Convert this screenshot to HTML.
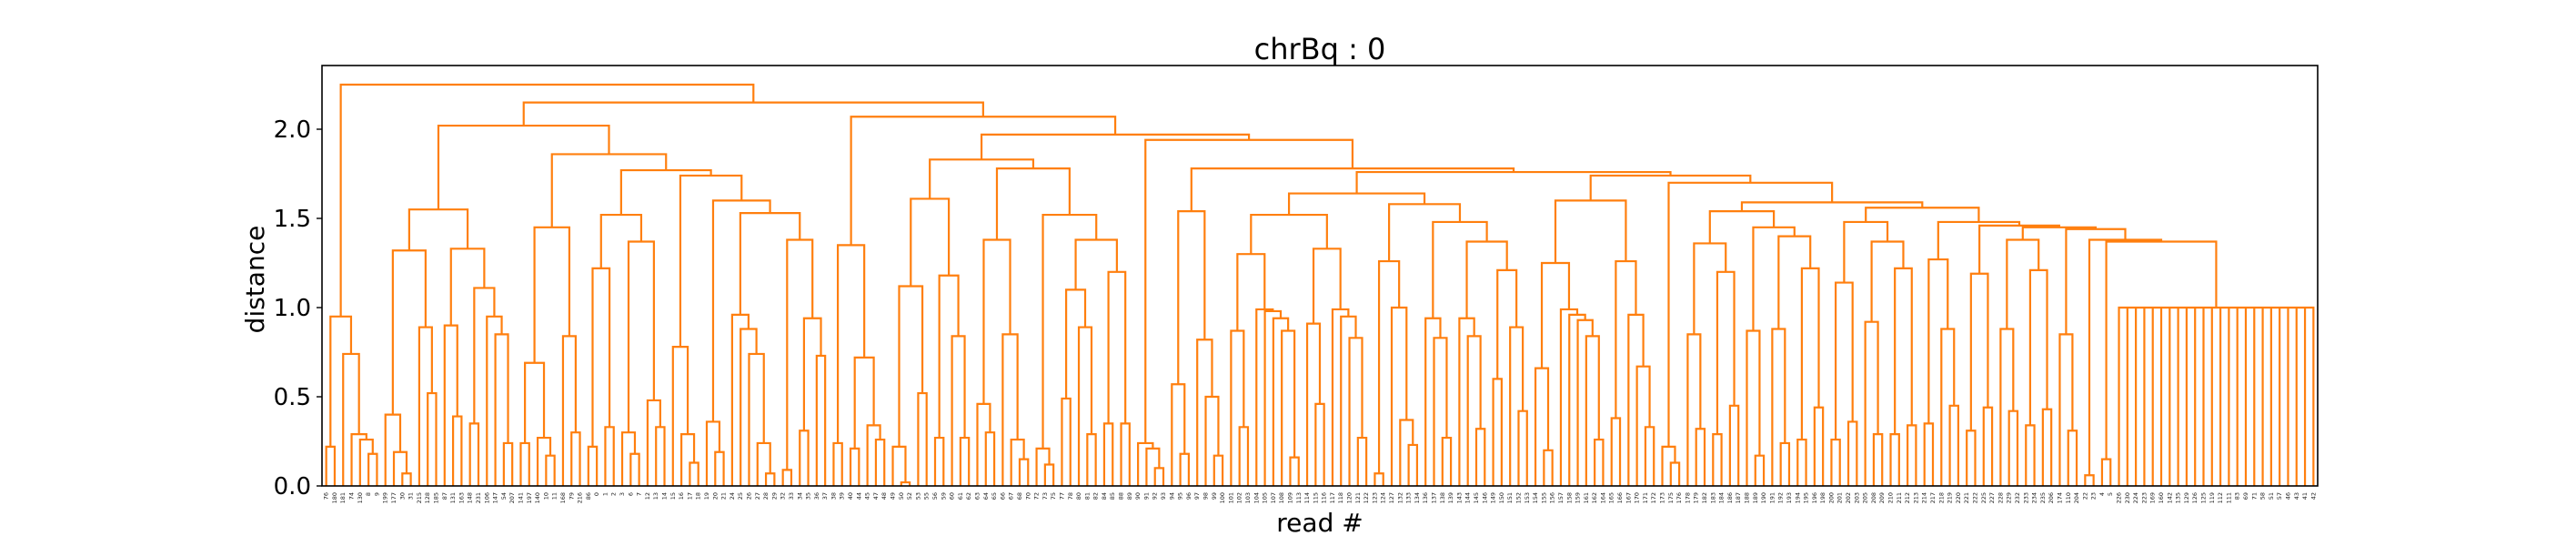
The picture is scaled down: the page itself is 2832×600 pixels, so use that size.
<!DOCTYPE html>
<html><head><meta charset="utf-8"><style>
html,body{margin:0;padding:0;background:#fff;}
svg{display:block;font-family:"DejaVu Sans","Liberation Sans",sans-serif;}
</style></head><body>
<svg id="chart" width="2832" height="600" viewBox="0 0 2832 600" xmlns="http://www.w3.org/2000/svg">
<rect x="0" y="0" width="2832" height="600" fill="#fff"/>
<text x="1451" y="65" font-size="32" text-anchor="middle" fill="#000">chrBq : 0</text>
<text x="0" y="0" font-size="28" text-anchor="middle" fill="#000" transform="translate(290,307) rotate(-90)">distance</text>
<text x="1451" y="584" font-size="28" text-anchor="middle" fill="#000">read #</text>
<g id="links"></g>
<g id="yaxis"></g>
<g id="xlabels"></g>
<rect x="354" y="72" width="2194" height="462" fill="none" stroke="#000" stroke-width="1.6"/>
</svg>
<script>
// ---- data: dendrogram subtrees [height, child, child...], leaf = 0 ----
const yTicks = [0.0, 0.5, 1.0, 1.5, 2.0];
const yTickLabels = ["0.0", "0.5", "1.0", "1.5", "2.0"];
const treeA = [0.95,[0.22,0,0],[0.74,0,[0.29,0,[0.26,0,[0.18,0,0]]]]];
const tree132 = [1.32,[0.40,0,[0.19,0,[0.07,0,0]]],[0.89,0,[0.52,0,0]]];
const tree133 = [1.33,[0.90,0,[0.39,0,0]],[1.11,[0.35,0,0],[0.95,0,[0.85,0,[0.24,0,0]]]]];
const tree145 = [1.45,[0.69,[0.24,0,0],[0.27,0,[0.17,0,0]]],[0.84,0,[0.30,0,0]]];
const tree152a = [1.52,[1.22,[0.22,0,0],[0.33,0,0]],[1.37,[0.30,0,[0.18,0,0]],[0.48,0,[0.33,0,0]]]];
const tree174 = [1.74,[0.78,0,[0.29,0,[0.13,0,0]]],[1.60,[0.36,0,[0.19,0,0]],[1.53,[0.96,0,[0.88,0,[0.74,0,[0.24,0,[0.07,0,0]]]]],[1.38,[0.09,0,0],[0.94,[0.31,0,0],[0.73,0,0]]]]]];
const tree135 = [1.35,[0.24,0,0],[0.72,[0.21,0,0],[0.34,0,[0.26,0,0]]]];
const tree161 = [1.61,[1.12,[0.22,0,[0.02,0,0]],[0.52,0,0]],[1.18,[0.27,0,0],[0.84,0,[0.27,0,0]]]];
const tree178a = [1.78,[1.38,[0.46,0,[0.30,0,0]],[0.85,0,[0.26,0,[0.15,0,0]]]],[1.52,[0.21,0,[0.12,0,0]],[1.38,[1.10,[0.49,0,0],[0.89,0,[0.29,0,0]]],[1.20,[0.35,0,0],[0.35,0,0]]]]];
const tree154b = [1.54,[0.57,0,[0.18,0,0]],[0.82,0,[0.50,0,[0.17,0,0]]]];
const tree130 = [1.30,[0.87,0,[0.33,0,0]],[0.99,0,[0.98,0,[0.94,0,[0.87,0,[0.16,0,0]]]]]];
const tree133b = [1.33,[0.91,0,[0.46,0,0]],[0.99,0,[0.95,0,[0.83,0,[0.27,0,0]]]]];
const tree158 = [1.58,[1.26,[0.07,0,0],[1.00,0,[0.37,0,[0.23,0,0]]]],[1.48,[0.94,0,[0.83,0,[0.27,0,0]]],[1.37,[0.94,0,[0.84,0,[0.32,0,0]]],[1.21,[0.60,0,0],[0.89,0,[0.42,0,0]]]]]];
const tree160 = [1.60,[1.25,[0.66,0,[0.20,0,0]],[0.99,0,[0.96,0,[0.93,0,[0.84,0,[0.26,0,0]]]]]],[1.26,[0.38,0,0],[0.96,0,[0.67,0,[0.33,0,0]]]]];
const tree154c = [1.54,[1.36,[0.85,0,[0.32,0,0]],[1.20,[0.29,0,0],[0.45,0,0]]],[1.45,[0.87,0,[0.17,0,0]],[1.40,[0.88,0,[0.24,0,0]],[1.22,[0.26,0,0],[0.44,0,0]]]]];
const tree148a = [1.48,[1.14,[0.26,0,0],[0.36,0,0]],[1.37,[0.92,0,[0.29,0,0]],[1.22,[0.29,0,0],[0.34,0,0]]]];
const treeFlat = [1.00,0,0,0,0,0,0,0,0,0,0,0,0,0,0,0,0,0,0,0,0,0,0,0,0];
const tree144 = [1.44,[0.85,0,[0.31,0,0]],[1.38,[0.06,0,0],[1.37,[0.15,0,0],treeFlat]]];
const tree145b = [1.45,[1.38,[0.88,0,[0.42,0,0]],[1.21,[0.34,0,0],[0.43,0,0]]],tree144];
const tree146 = [1.46,[1.19,[0.31,0,0],[0.44,0,0]],tree145b];
const tree148b = [1.48,[1.27,[0.35,0,0],[0.88,0,[0.45,0,0]]],tree146];
const tree156 = [1.56,tree148a,tree148b];
const tree159 = [1.59,tree154c,tree156];
const tree170 = [1.70,[0.22,0,[0.13,0,0]],tree159];
const tree174b = [1.74,tree160,tree170];
const tree164 = [1.64,[1.52,tree130,tree133b],tree158];
const tree176 = [1.76,tree164,tree174b];
const tree178c = [1.78,tree154b,tree176];
const tree194 = [1.94,[0.24,0,[0.21,0,[0.10,0,0]]],tree178c];
const tree183 = [1.83,tree161,tree178a];
const tree197 = [1.97,tree183,tree194];
const tree207 = [2.07,tree135,tree197];
const tree186 = [1.86,tree145,[1.77,tree152a,tree174]];
const tree202 = [2.02,[1.55,tree132,tree133],tree186];
const treeRoot = [2.25,treeA,[2.15,tree202,tree207]];
const knownLeftLabels = ["76","180","181","74","130","8","9","199","177","30","31","215","128","185","87","131","163","148","231","106","147","54","207","141","197","140","10","11","168","79","216","86"];
const knownRightLabels = ["206","174","110","204","22","23","4","5","226","230","224","223","169","160","142","135","129","126","125","119","112","111","83","69","71","58","51","57","46","43","41","42"];

// ---- layout ----
const NS = "http://www.w3.org/2000/svg";
const plotL = 354, plotR = 2548, plotB = 534, pxPerUnit = 196;
function countLeaves(n){ if(!Array.isArray(n)) return 1; let c=0; for(let i=1;i<n.length;i++) c+=countLeaves(n[i]); return c; }
const nLeaves = countLeaves(treeRoot);
const xStep = (plotR - plotL) / nLeaves;
function xOf(i){ return plotL + (i + 0.5) * xStep; }
function yOf(v){ return plotB - v * pxPerUnit; }
const linksG = document.getElementById('links');
let leafCounter = 0;
function layout(n){
  if(!Array.isArray(n)){ const x = xOf(leafCounter); leafCounter++; return {x:x, h:0}; }
  const kids = [];
  for(let i=1;i<n.length;i++) kids.push(layout(n[i]));
  const h = n[0];
  const x1 = kids[0].x, x2 = kids[kids.length-1].x;
  let d = "M" + x1 + "," + yOf(kids[0].h) + "V" + yOf(h) + "H" + x2 + "V" + yOf(kids[kids.length-1].h);
  for(let k=1;k<kids.length-1;k++) d += "M" + kids[k].x + "," + yOf(h) + "V" + yOf(kids[k].h);
  const p = document.createElementNS(NS,'path');
  p.setAttribute('d', d);
  p.setAttribute('fill','none');
  p.setAttribute('stroke','#ff7f0e');
  p.setAttribute('stroke-width','2.2');
  
  
  linksG.appendChild(p);
  return {x:(x1+x2)/2, h:h};
}
layout(treeRoot);

// y axis
const yG = document.getElementById('yaxis');
yTicks.forEach(function(v, i){
  const y = yOf(v);
  const t = document.createElementNS(NS,'line');
  t.setAttribute('x1', plotL-6); t.setAttribute('x2', plotL); t.setAttribute('y1', y); t.setAttribute('y2', y);
  t.setAttribute('stroke','#000'); t.setAttribute('stroke-width','1.4');
  
  
  yG.appendChild(t);
  const tx = document.createElementNS(NS,'text');
  tx.setAttribute('x', plotL-12); tx.setAttribute('y', y+9);
  tx.setAttribute('font-size','26'); tx.setAttribute('text-anchor','end');
  tx.textContent = yTickLabels[i];
  
  
  yG.appendChild(tx);
});

// leaf labels
const used = new Set(knownLeftLabels.concat(knownRightLabels));
const filler = [];
for(let v=0; v<400 && filler.length < nLeaves; v++){ if(!used.has(String(v))) filler.push(String(v)); }
const midCount = nLeaves - knownLeftLabels.length - knownRightLabels.length;
const leafLabels = knownLeftLabels.concat(filler.slice(0, Math.max(0,midCount)), knownRightLabels);
const xG = document.getElementById('xlabels');
for(let i=0;i<nLeaves;i++){
  const x = xOf(i);
  const t = document.createElementNS(NS,'text');
  t.setAttribute('x', 0); t.setAttribute('y', 0);
  t.setAttribute('transform','translate(' + (x+2) + ',541) rotate(-90)');
  t.setAttribute('font-size','6.5'); t.setAttribute('text-anchor','end'); t.setAttribute('fill','#222');
  t.textContent = leafLabels[i] || "";
  
  
  xG.appendChild(t);
}
</script>
</body></html>
